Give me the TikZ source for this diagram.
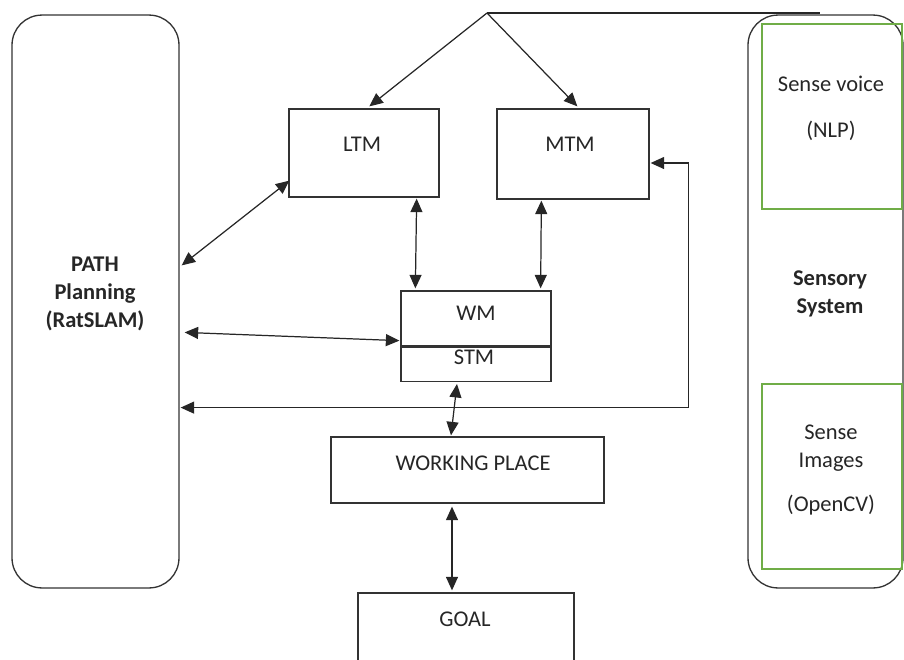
\documentclass[tikz,border=0pt]{standalone}
\usepackage{fontspec}
\setmainfont{Carlito}
\usepackage{tikz}
\usetikzlibrary{
    arrows.meta,      % For Triangle tips
    positioning,      % For below=of ...
    calc              % For offsets on anchors
}
\definecolor{senseGreen}{RGB}{112,173,71}
\tikzset{
  % Style for plain memory boxes
  box/.style={
    rectangle, draw=black!80, line width=0.75pt, inner sep=0pt
  },
  % Style for the two tall rounded panels
  panel/.style={
    box, rounded corners=0.6cm, minimum width=#1, minimum height=11.46cm
  },
  % Style for the green sensor boxes
  sense/.style={
    rectangle, draw=senseGreen, line width=0.8pt, inner sep=0pt,
    minimum width=2.8cm, minimum height=3.7cm
  },
  % Style for texts
  txt/.style={
    align=center, inner sep=0pt, text=black!85
  },
  % Style for arrows
  arrow/.style={
    -{Triangle[length=2.7mm,width=2.4mm]}, line width=0.7pt, draw=black!85
  },
  dbl/.style={
    {Triangle[length=2.7mm,width=2.4mm]}-{Triangle[length=2.7mm,width=2.4mm]},
    line width=0.7pt, draw=black!85
  }
}

\begin{document}
\begin{tikzpicture}[x=0.02cm, y=-0.02cm, font=\fontsize{12.8}{16}\selectfont]
    \useasboundingbox (0,0) rectangle (904,660);
    \clip (0,0) rectangle (904,660);

    % side panels
    \node (path) [panel=3.34cm] at (95.5,301.5) {};
    \node (sensory) [panel=3.1cm] at (825.5,301.5) {};
    \node (voice) [sense] at (832,116.5) {};
    \node (images) [sense] at (832,476.5) {};

    % memory boxes
    \node (ltm) [box, minimum width=3cm, minimum height=1.76cm] at (364,153) {};
    \node (mtm) [box, minimum width=3.04cm, minimum height=1.8cm] at (573,154) {};
    \node (wm) [box, minimum width=3cm, minimum height=1.1cm] at (476,318.5) {};
    \node (stm) [box, minimum width=3cm, minimum height=0.68cm, below=0pt of wm] {};
    \node (wp) [box, minimum width=5.46cm, minimum height=1.32cm] at (467.5,470) {};
    \node (goal) [box, minimum width=4.32cm, minimum height=2cm] at (466,643) {};

    % texts
    \node (pathtxt) [txt, font=\fontsize{12.8}{16}\selectfont\bfseries] at (95,294) {PATH\\Planning\\(RatSLAM)};
    \node (sensorytxt) [txt, font=\fontsize{12.8}{16}\selectfont\bfseries] at (830,294) {Sensory\\System};
    \node (voicetxt) [txt] at (831,108) {Sense voice\\[10pt](NLP)};
    \node (imagestxt) [txt] at (831,470) {Sense\\Images\\[9.5pt](OpenCV)};
    \node (ltmtxt) [txt] at (362,144) {LTM};
    \node (mtmtxt) [txt] at (570,144) {MTM};
    \node (wmtxt) [txt] at (476,313) {WM};
    \node (stmtxt) [txt] at (474,357) {STM};
    \node (wptxt) [txt] at (473,463) {WORKING PLACE};
    \node (goaltxt) [txt] at (465,619) {GOAL};

    % fork at the top
    \coordinate (fork) at (487,13);
    \coordinate (forkend) at (820,13);
    \draw[line width=0.7pt, draw=black!85] (fork) -- (forkend);
    \draw[arrow] (fork) -- ($(ltm.north west)+(81,-2)$);
    \draw[arrow] (fork) -- ($(mtm.north west)+(81,-2)$);

    % links
    \draw[dbl] ($(path.north east)+(2,251)$) -- ($(ltm.south west)+(1,-17)$);
    \draw[dbl] ($(path.north east)+(5,318)$) -- ($(wm.south west)+(-1,-6)$);
    \draw[dbl] ($(ltm.south east)+(-23,1)$) -- ($(wm.north west)+(15,-2)$);
    \draw[dbl] ($(mtm.south west)+(45,1)$) -- ($(wm.north east)+(-11,-2)$);
    \draw[dbl] ($(mtm.east)+(1,9)$) -- ++(38,0) |- ($(path.south east)+(1,-181)$);
    \draw[dbl] ($(stm.south)+(-19,2)$) -- ($(wp.north)+(-16.5,-1)$);
    \draw[dbl] ($(wp.south)+(-15.5,3)$) -- ($(goal.north)+(-14,-2)$);

\end{tikzpicture}
\end{document}
